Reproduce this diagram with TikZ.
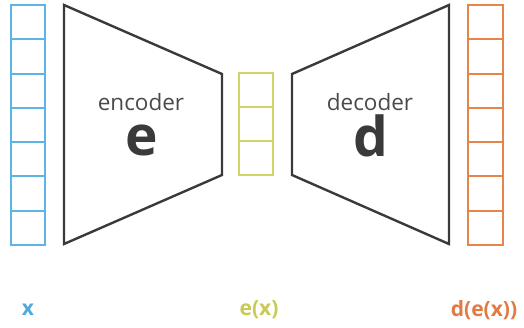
\documentclass[tikz,border=0pt]{standalone}
\usepackage{fontspec}
\setmainfont{Open Sans}
\begin{document}
\begin{tikzpicture}[x=1pt,y=-1pt]
\definecolor{cblue}{HTML}{5DB5E6}
\definecolor{cyel}{HTML}{D3D36C}
\definecolor{corg}{HTML}{E8834A}
\definecolor{cgray}{HTML}{3A3A3A}
\definecolor{tgray}{HTML}{4A4A4A}
\definecolor{tblue}{HTML}{4FA9DD}
\definecolor{tyel}{HTML}{C9C955}
\definecolor{torg}{HTML}{E27A42}
\tikzset{
  cell/.style={draw=#1, line width=2pt, inner sep=0pt, outer sep=0pt},
  trap/.style={draw=cgray, line width=2.4pt, line join=miter},
  lbl/.style={font=\fontsize{22.5}{22.5}\selectfont, text=tgray, inner sep=0pt},
  big/.style={font=\bfseries\fontsize{55}{55}\selectfont, text=cgray, inner sep=0pt},
  vlbl/.style={font=\bfseries\fontsize{21}{21}\selectfont, inner sep=0pt}
}
\useasboundingbox (0,0) rectangle (524,328);
% input column x
\foreach \i in {0,...,6}{
  \node[cell=cblue, minimum width=34pt, minimum height=34.3pt, anchor=north west] (x\i) at (10.5,{5+34.3*\i}) {};
}
% encoder
\draw[trap] (64,5) -- (222,74) -- (222,175) -- (64,244) -- cycle;
\node[lbl] (enc) at (141,102) {encoder};
\node[big] (e) at (142,140) {e};
% code column
\foreach \i in {0,1,2}{
  \node[cell=cyel, minimum width=34pt, minimum height=34pt, anchor=north west] (c\i) at (239,{73+34*\i}) {};
}
% decoder
\draw[trap] (292,74) -- (449,5) -- (449,244) -- (292,175) -- cycle;
\node[lbl] (dec) at (370,102) {decoder};
\node[big] (d) at (371,136) {d};
% output column
\foreach \i in {0,...,6}{
  \node[cell=corg, minimum width=35pt, minimum height=34.3pt, anchor=north west] (o\i) at (467.5,{5+34.3*\i}) {};
}
% labels
\node[vlbl, text=tblue] (lx) at (28,310) {x};
\node[vlbl, text=tyel] (lex) at (259,310) {e(x)};
\node[vlbl, text=torg] (ldex) at (484,310) {d(e(x))};
\end{tikzpicture}
\end{document}
